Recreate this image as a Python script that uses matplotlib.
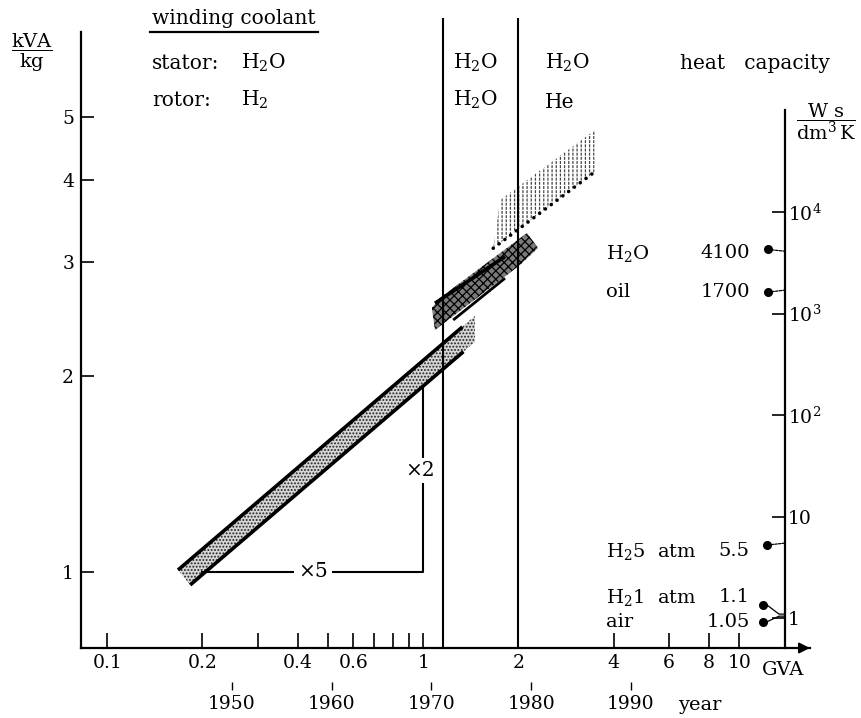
import numpy as np
import matplotlib
matplotlib.use('Agg')
import matplotlib.pyplot as plt
from matplotlib.lines import Line2D
from matplotlib.patches import Polygon
from matplotlib.ticker import NullLocator, FixedLocator, FixedFormatter
import matplotlib.transforms as mtransforms

plt.rcParams['font.family'] = ['DejaVu Serif']
plt.rcParams['mathtext.fontset'] = 'dejavuserif'
plt.rcParams['hatch.linewidth'] = 0.9

# ---------------- data ----------------
GVA_TICKS = [0.1, 0.2, 0.4, 0.6, 1, 2, 4, 6, 8, 10]
GVA_TICK_LABELS = ['0.1', '0.2', '0.4', '0.6', '1', '2', '4', '6', '8', '10']
GVA_MINOR = [0.3, 0.5, 0.7, 0.8, 0.9]
KVA_TICKS = [1, 2, 3, 4, 5]
KVA_TICK_LABELS = ['1', '2', '3', '4', '5']
YEAR_TICKS = [1950, 1960, 1970, 1980, 1990]
YEAR_REF = [1950, 1990]
GVA_AT_YEAR_REF = [0.248, 4.54]
ERA_BOUNDS_GVA = [1.157, 2.0]

# band 1: water-cooled stator, hydrogen rotor
BAND1_GVA = [0.1675, 1.458, 1.458, 0.183]
BAND1_KVA = [1.006, 2.476, 2.257, 0.954]
BAND1_TOP_GVA = [0.1675, 1.33]
BAND1_TOP_KVA = [1.006, 2.38]
BAND1_BOT_GVA = [0.183, 1.34]
BAND1_BOT_KVA = [0.954, 2.18]

# band 2: water / water
BAND2_GVA = [1.129, 2.129, 2.307, 2.023, 1.089, 1.065]
BAND2_KVA = [2.637, 3.319, 3.148, 2.964, 2.354, 2.545]
BAND2_TOP_GVA = [1.089, 1.814]
BAND2_TOP_KVA = [2.588, 3.053]
BAND2_BOT_GVA = [1.244, 1.814]
BAND2_BOT_KVA = [2.439, 2.828]

# band 3: water / helium
BAND3_GVA = [1.665, 3.494, 3.494, 1.751]
BAND3_KVA = [3.145, 4.125, 4.78, 3.731]
BAND3_EDGE_GVA = [1.665, 3.494]
BAND3_EDGE_KVA = [3.145, 4.125]

# slope triangle
SLOPE_GVA = [0.2, 1.0, 1.0]
SLOPE_KVA = [1.0, 1.0, 1.92]

# heat capacity scale
HC_TICKS = [1, 10, 100, 1000, 10000]
HC_TICK_LABELS = ['1', '10', '$10^2$', '$10^3$', '$10^4$']
HC_NAMES = ['H$_2$O', 'oil', 'H$_2$5  atm', 'H$_2$1  atm', 'air']
HC_VALUES = [4100, 1700, 5.5, 1.1, 1.05]
HC_VALUE_TEXT = ['4100', '1700', '5.5', '1.1', '1.05']

# ---------------- figure ----------------
W, H = 862, 718
fig = plt.figure(figsize=(W / 100, H / 100), dpi=100)


def fx(px):
    return px / W


def fy(py):
    return 1 - py / H


ax = fig.add_axes([fx(81), fy(648), fx(810) - fx(81), fy(18) - fy(648)])
ax.set_xscale('log')
ax.set_yscale('log')
ax.set_xlim(0.0826, 16.74)
ax.set_ylim(0.763, 7.11)
ax.patch.set_visible(False)

for s in ['top', 'right']:
    ax.spines[s].set_visible(False)
ax.spines['left'].set_bounds(0.763, 6.77)
ax.spines['left'].set_linewidth(1.6)
ax.spines['bottom'].set_linewidth(1.6)

ax.xaxis.set_major_locator(FixedLocator(GVA_TICKS))
ax.xaxis.set_major_formatter(FixedFormatter(GVA_TICK_LABELS))
ax.xaxis.set_minor_locator(FixedLocator(GVA_MINOR))
ax.yaxis.set_major_locator(FixedLocator(KVA_TICKS))
ax.yaxis.set_major_formatter(FixedFormatter(KVA_TICK_LABELS))
ax.yaxis.set_minor_locator(NullLocator())
ax.tick_params(axis='x', which='both', direction='in', length=11, width=1.2,
               labelsize=13.5, pad=4, top=False)
ax.tick_params(axis='y', which='both', direction='in', length=9.5, width=1.2,
               labelsize=13.5, pad=5, right=False)

# arrow at end of GVA axis
ax.annotate('', xy=(1.0, 0), xytext=(0.965, 0), xycoords='axes fraction',
            arrowprops=dict(arrowstyle='-|>', lw=1.4, color='black',
                            mutation_scale=16, shrinkA=0, shrinkB=0))

# year axis
ylog = np.log10(GVA_AT_YEAR_REF)
rate = (ylog[1] - ylog[0]) / (YEAR_REF[1] - YEAR_REF[0])


def gva_to_year(g):
    g = np.asarray(g, dtype=float)
    with np.errstate(divide='ignore', invalid='ignore'):
        return YEAR_REF[0] + (np.log10(g) - ylog[0]) / rate


def year_to_gva(y):
    y = np.asarray(y, dtype=float)
    return 10 ** (ylog[0] + rate * (y - YEAR_REF[0]))


sec = ax.secondary_xaxis(-0.054, functions=(gva_to_year, year_to_gva))
sec.set_xticks(YEAR_TICKS)
sec.set_xticklabels([str(y) for y in YEAR_TICKS])
sec.xaxis.set_minor_locator(NullLocator())
sec.spines['bottom'].set_visible(False)
sec.tick_params(axis='x', direction='out', length=6, width=1.0, labelsize=13.5, pad=3.5)

# era boundaries
for g in ERA_BOUNDS_GVA:
    ax.axvline(g, color='black', lw=1.5, zorder=4)

# band 1
ax.add_patch(Polygon(np.column_stack([BAND1_GVA, BAND1_KVA]), closed=True,
                     facecolor='#d6d6d6', edgecolor='#222222', lw=0,
                     hatch='.....', zorder=2))
ax.plot(BAND1_TOP_GVA, BAND1_TOP_KVA, color='black', lw=2.6, solid_capstyle='butt', zorder=3)
ax.plot(BAND1_BOT_GVA, BAND1_BOT_KVA, color='black', lw=2.6, solid_capstyle='butt', zorder=3)

# band 2
ax.add_patch(Polygon(np.column_stack([BAND2_GVA, BAND2_KVA]), closed=True,
                     facecolor='#7a7a7a', edgecolor='black', lw=0,
                     hatch='xxxx', zorder=2))
ax.plot(BAND2_TOP_GVA, BAND2_TOP_KVA, color='black', lw=2.6, solid_capstyle='butt', zorder=3)
ax.plot(BAND2_BOT_GVA, BAND2_BOT_KVA, color='black', lw=2.0, solid_capstyle='butt', zorder=3)

# band 3 (short dashes: vertical hatch broken by white horizontal hatch)
band3_xy = np.column_stack([BAND3_GVA, BAND3_KVA])
ax.add_patch(Polygon(band3_xy, closed=True, facecolor='white', edgecolor='#444444',
                     lw=0, hatch='||||', zorder=2))
ax.add_patch(Polygon(band3_xy, closed=True, facecolor='none', edgecolor='white',
                     lw=0, hatch='----', zorder=2.1))
ax.plot(BAND3_EDGE_GVA, BAND3_EDGE_KVA, color='black', lw=2.6,
        linestyle=(0, (0.01, 2.0)), dash_capstyle='round', zorder=3)

# slope triangle
ax.plot(SLOPE_GVA, SLOPE_KVA, color='black', lw=1.5, zorder=3)
ax.text(0.447, 1.0, '×5', ha='center', va='center', fontsize=14.5, zorder=5,
        bbox=dict(facecolor='white', edgecolor='none', pad=3))
ax.text(0.975, 1.43, '×2', ha='center', va='center', fontsize=14.5, zorder=5,
        bbox=dict(facecolor='white', edgecolor='none', pad=2))

# ---------------- heat capacity axis ----------------
ax2 = fig.add_axes([fx(600), fy(648), fx(785) - fx(600), fy(18) - fy(648)])
ax2.set_yscale('log')
ax2.set_xlim(0, 1)
ax2.set_ylim(0.5103, 8.1e5)
ax2.patch.set_visible(False)
for s in ['top', 'left', 'bottom']:
    ax2.spines[s].set_visible(False)
ax2.spines['right'].set_bounds(0.5103, 1.0e5)
ax2.spines['right'].set_linewidth(1.6)
ax2.set_xticks([])
ax2.yaxis.set_major_locator(FixedLocator(HC_TICKS))
ax2.yaxis.set_major_formatter(FixedFormatter(HC_TICK_LABELS))
ax2.yaxis.set_minor_locator(NullLocator())
ax2.tick_params(axis='y', which='both', direction='in', length=9.5, width=1.2,
                left=False, labelleft=False, right=True, labelright=True,
                labelsize=13.5, pad=2)

name_off = [0, 0, -4, 13.5, -3]
dot_dx = [-12.2, -12.2, -12.7, -15.8, -15.8]
dot_dy = [1.3, -1.5, -1.4, 6.5, -4.0]
blend = mtransforms.blended_transform_factory(ax2.transAxes, ax2.transData)
for name, val, vtxt, no, ddx, ddy in zip(HC_NAMES, HC_VALUES, HC_VALUE_TEXT,
                                         name_off, dot_dx, dot_dy):
    ax2.annotate(name, xy=(0.035, val), xycoords=blend, xytext=(0, no),
                 textcoords='offset points', ha='left', va='center_baseline',
                 fontsize=14)
    ax2.annotate(vtxt, xy=(0.81, val), xycoords=blend, xytext=(0, no),
                 textcoords='offset points', ha='right', va='center_baseline',
                 fontsize=14)
    tr = mtransforms.offset_copy(ax2.transData, fig=fig, x=ddx, y=ddy, units='points')
    ax2.plot([1.0], [val], 'o', color='black', markersize=5.5, transform=tr,
             clip_on=False, zorder=5)
    bent = abs(ddy) >= 2
    ax2.annotate('', xy=(1.0, val), xycoords='data', xytext=(ddx, ddy),
                 textcoords='offset points',
                 arrowprops=dict(arrowstyle='-', lw=0.9, color='black',
                                 linestyle='-' if bent else (0, (2, 1)),
                                 shrinkA=0, shrinkB=0,
                                 connectionstyle=('arc,angleA=0,angleB=180,armA=4,armB=6,rad=0'
                                                  if bent else 'arc3')),
                 annotation_clip=False)

# ---------------- texts ----------------
TS = 14.5
fig.text(fx(152), fy(24), 'winding coolant', fontsize=TS, ha='left', va='baseline')
fig.add_artist(Line2D([fx(150), fx(318)], [fy(32), fy(32)], color='black', lw=1.6))
fig.text(fx(152), fy(69), 'stator:', fontsize=TS, ha='left', va='baseline')
fig.text(fx(241), fy(69), 'H$_2$O', fontsize=TS, ha='left', va='baseline')
fig.text(fx(152), fy(106), 'rotor:', fontsize=TS, ha='left', va='baseline')
fig.text(fx(241), fy(106), 'H$_2$', fontsize=TS, ha='left', va='baseline')
fig.text(fx(453), fy(69), 'H$_2$O', fontsize=TS, ha='left', va='baseline')
fig.text(fx(453), fy(106), 'H$_2$O', fontsize=TS, ha='left', va='baseline')
fig.text(fx(545), fy(69), 'H$_2$O', fontsize=TS, ha='left', va='baseline')
fig.text(fx(545), fy(108), 'He', fontsize=TS, ha='left', va='baseline')
fig.text(fx(680), fy(69), 'heat   capacity', fontsize=TS, ha='left', va='baseline')

fig.text(fx(32), fy(53), r'$\dfrac{\mathrm{kVA}}{\mathrm{kg}}$', fontsize=14,
         ha='center', va='center')
fig.text(fx(826), fy(122), r'$\dfrac{\mathrm{W\ s}}{\mathrm{dm^3\,K}}$', fontsize=14,
         ha='center', va='center')

fig.text(fx(783), fy(670), 'GVA', fontsize=14, ha='center', va='center')
fig.text(fx(700), fy(705), 'year', fontsize=14, ha='center', va='center')

fig.savefig('out.png', dpi=100)
